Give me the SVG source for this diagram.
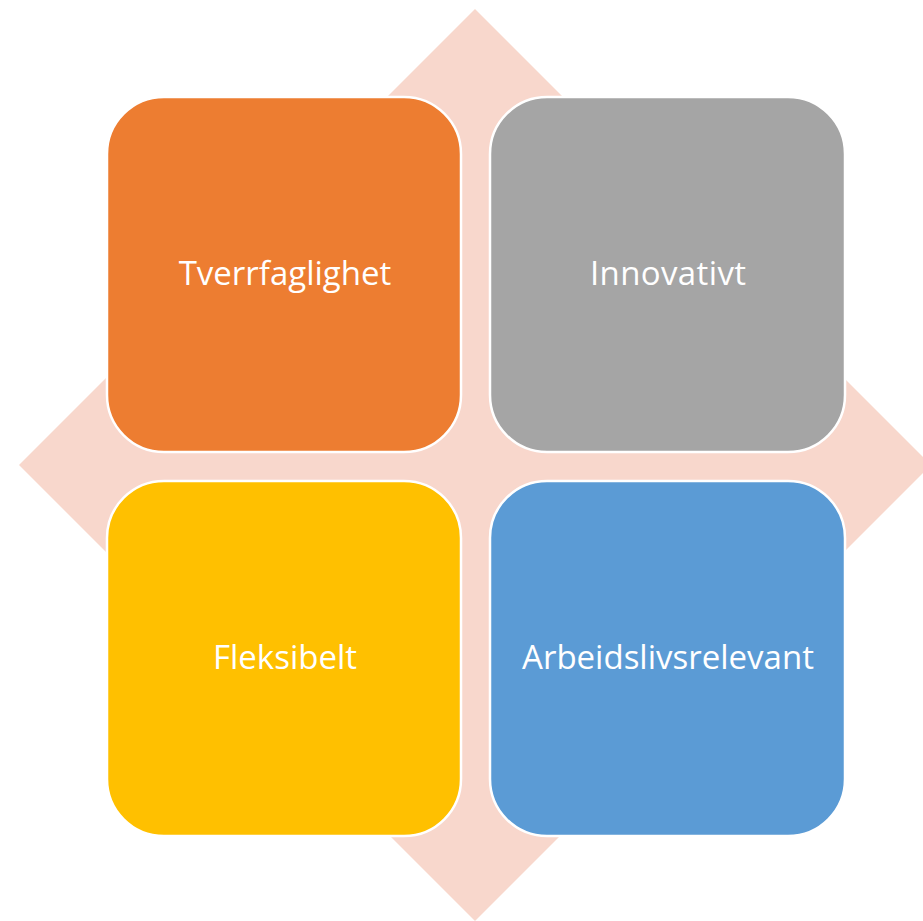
<svg xmlns="http://www.w3.org/2000/svg" width="923" height="921" viewBox="0 0 923 921">
<style>
.box{stroke:#FFFFFF;stroke-width:2.5}
.lbl{font-family:"Open Sans","Liberation Sans",sans-serif;font-size:33px;fill:#FFFFFF;text-anchor:middle}
</style>
<rect width="923" height="921" fill="#FFFFFF"/>
<g id="diamond"><polygon points="475,9 931,465 475,921 19,465" fill="#F8D7CC"/></g>
<g id="connectors"></g>
<g id="tverrfaglighet"><rect class="box" x="107" y="97" width="354" height="355" rx="57" fill="#ED7D31"/><text class="lbl" x="285" y="285">Tverrfaglighet</text></g>
<g id="innovativt"><rect class="box" x="490" y="97" width="355" height="355" rx="57" fill="#A5A5A5"/><text class="lbl" x="668" y="285" textLength="156" lengthAdjust="spacing">Innovativt</text></g>
<g id="fleksibelt"><rect class="box" x="107" y="481" width="354" height="355" rx="57" fill="#FFC000"/><text class="lbl" x="285" y="669">Fleksibelt</text></g>
<g id="arbeidslivsrelevant"><rect class="box" x="490" y="481" width="355" height="355" rx="57" fill="#5B9BD5"/><text class="lbl" x="668" y="669">Arbeidslivsrelevant</text></g>
</svg>
